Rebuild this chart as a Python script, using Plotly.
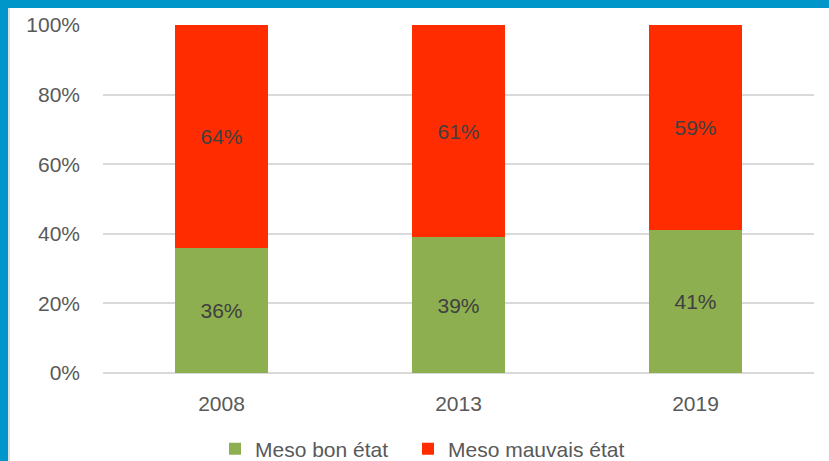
import plotly.graph_objects as go

years = ["2008", "2013", "2019"]
bon_etat = [36, 39, 41]
mauvais_etat = [64, 61, 59]
series_names = ["Meso bon état", "Meso mauvais état"]
colors = ["#8DAF4F", "#FF2C00"]

W, H = 829, 461
L, R, T, B = 103, 15, 25, 88
pw, ph = W - L - R, H - T - B
FONT = "Liberation Sans, Arial, sans-serif"
FS = 21

fig = go.Figure()
for i, (name, vals, col) in enumerate(zip(series_names, [bon_etat, mauvais_etat], colors)):
    fig.add_trace(go.Bar(
        x=years, y=vals, name=name, marker=dict(color=col, line=dict(width=0)),
        text=[f"{v}%" for v in vals], textposition="inside", insidetextanchor="middle",
        textfont=dict(color="#404040", size=FS), textangle=0,
        legend="legend" if i == 0 else "legend2",
    ))

def px_x(p):
    return (p - L) / pw

def px_y(p):
    return (H - B - p) / ph

shapes = [
    dict(type="rect", xref="paper", yref="paper", x0=px_x(-5), x1=px_x(W + 5),
         y0=px_y(8), y1=px_y(-5), fillcolor="#0096C9", line=dict(width=0), layer="above"),
    dict(type="rect", xref="paper", yref="paper", x0=px_x(-5), x1=px_x(8),
         y0=px_y(H + 5), y1=px_y(-5), fillcolor="#0096C9", line=dict(width=0), layer="above"),
    dict(type="rect", xref="paper", yref="paper", x0=px_x(8), x1=px_x(10),
         y0=px_y(H + 5), y1=px_y(8), fillcolor="#E0E0E0", line=dict(width=0), layer="above"),
]

leg_common = dict(orientation="h", xanchor="left", xref="container", yref="container",
                  y=(H - 449) / H, yanchor="middle",
                  font=dict(size=FS, color="#595959"), itemwidth=30,
                  bgcolor="rgba(0,0,0,0)")

fig.update_layout(
    width=W, height=H, barmode="stack", bargap=0.61,
    margin=dict(l=L, r=R, t=T, b=B, autoexpand=False),
    paper_bgcolor="white", plot_bgcolor="white",
    font=dict(family=FONT, size=FS, color="#595959"),
    showlegend=True,
    legend=dict(x=215 / W, **leg_common),
    legend2=dict(x=408 / W, **leg_common),
    shapes=shapes,
    xaxis=dict(showgrid=False, showline=False, ticks="", ticklabelstandoff=16,
               tickfont=dict(size=FS, color="#595959")),
    yaxis=dict(range=[0, 100], dtick=20, ticksuffix="%", showgrid=True,
               gridcolor="#D9D9D9", gridwidth=1.5, zeroline=True, zerolinecolor="#D9D9D9",
               zerolinewidth=1.5, ticklabelstandoff=22,
               tickfont=dict(size=FS, color="#595959")),
)

fig.write_html("out.html", config={"displayModeBar": False},
               post_script="document.body.style.margin='0px';")
